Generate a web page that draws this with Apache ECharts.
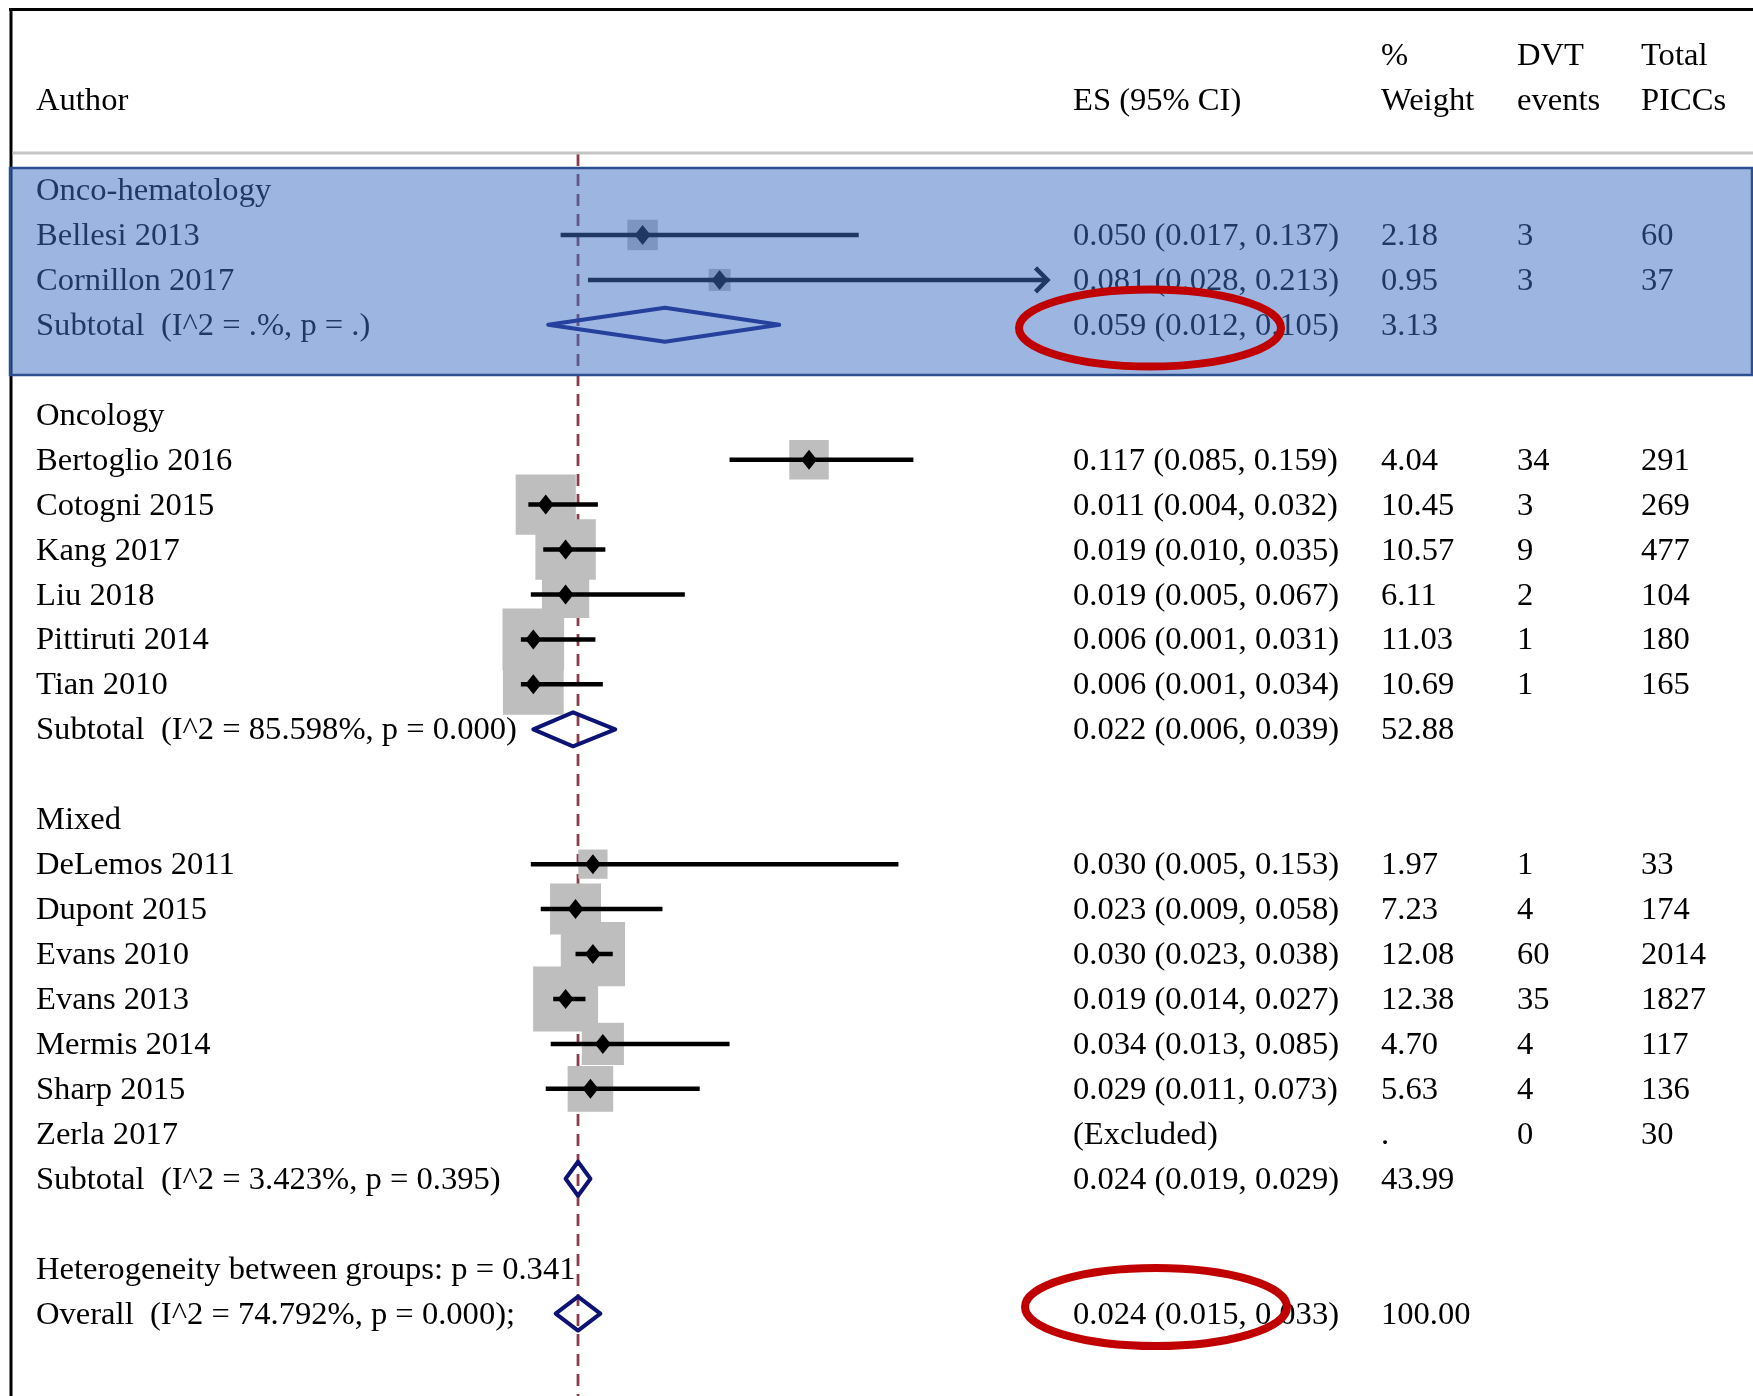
<!DOCTYPE html>
<html>
<head>
<meta charset="utf-8">
<title>PICC-related DVT: forest plot by patient population</title>
<script src="https://cdn.jsdelivr.net/npm/echarts@6/dist/echarts.min.js"></script>
<style>
  html, body { margin: 0; padding: 0; background: #ffffff; }
  #chart { width: 1753px; height: 1396px; }
</style>
</head>
<body>
<div id="chart"></div>
<script>
// ---- Subgroups ----
const groupNames  = ['Onco-hematology', 'Oncology', 'Mixed'];
const groupStats  = ['(I^2 = .%, p = .)', '(I^2 = 85.598%, p = 0.000)', '(I^2 = 3.423%, p = 0.395)'];
const groupES     = [0.059, 0.022, 0.024];
const groupLow    = [0.012, 0.006, 0.019];
const groupHigh   = [0.105, 0.039, 0.029];
const groupWeight = [3.13, 52.88, 43.99];

// ---- Individual studies ----
const studyNames  = ['Bellesi 2013', 'Cornillon 2017',
                     'Bertoglio 2016', 'Cotogni 2015', 'Kang 2017', 'Liu 2018', 'Pittiruti 2014', 'Tian 2010',
                     'DeLemos 2011', 'Dupont 2015', 'Evans 2010', 'Evans 2013', 'Mermis 2014', 'Sharp 2015', 'Zerla 2017'];
const studyGroup  = [0, 0, 1, 1, 1, 1, 1, 1, 2, 2, 2, 2, 2, 2, 2];
const studyES     = [0.050, 0.081, 0.117, 0.011, 0.019, 0.019, 0.006, 0.006, 0.030, 0.023, 0.030, 0.019, 0.034, 0.029, null];
const studyLow    = [0.017, 0.028, 0.085, 0.004, 0.010, 0.005, 0.001, 0.001, 0.005, 0.009, 0.023, 0.014, 0.013, 0.011, null];
const studyHigh   = [0.137, 0.213, 0.159, 0.032, 0.035, 0.067, 0.031, 0.034, 0.153, 0.058, 0.038, 0.027, 0.085, 0.073, null];
const studyWeight = [2.18, 0.95, 4.04, 10.45, 10.57, 6.11, 11.03, 10.69, 1.97, 7.23, 12.08, 12.38, 4.70, 5.63, null];
const studyEvents = [3, 3, 34, 3, 9, 2, 1, 1, 1, 4, 60, 35, 4, 4, 0];
const studyTotal  = [60, 37, 291, 269, 477, 104, 180, 165, 33, 174, 2014, 1827, 117, 136, 30];

// ---- Pooled estimate ----
const overallES = 0.024, overallLow = 0.015, overallHigh = 0.033, overallWeight = 100.00;
const overallLabel = 'Overall  (I^2 = 74.792%, p = 0.000);';
const betweenLabel = 'Heterogeneity between groups: p = 0.341';

// ---- Column headers ----
const headerTop    = ['', '', '%', 'DVT', 'Total'];
const headerBottom = ['Author', 'ES (95% CI)', 'Weight', 'events', 'PICCs'];

// Plotted effect-size range (CIs beyond it end in an arrow)
const axisMin = 0, axisMax = 0.213;

// ---------------------------------------------------------------
const FONT = '32.6px "Liberation Serif", "Times New Roman", serif';
const colX = [36, 1073, 1381, 1517, 1641];
const TEXT_DY = 1.5;
const NAVY = '#0d1275';

const fmt3 = v => v.toFixed(3);
const ciText = (e, l, h) => fmt3(e) + ' (' + fmt3(l) + ', ' + fmt3(h) + ')';

// Lay the table out row by row
const texts = [];      // {col, row, text}
const studyRows = [];  // [es, row, low, high, weight]
const pooledRows = []; // [es, row, low, high]
headerTop.forEach((t, c) => { if (t) texts.push({ col: c, row: -3, text: t }); });
headerBottom.forEach((t, c) => texts.push({ col: c, row: -2, text: t }));

let r = 0;
groupNames.forEach((g, gi) => {
  texts.push({ col: 0, row: r, text: g });
  r++;
  studyNames.forEach((name, si) => {
    if (studyGroup[si] !== gi) return;
    texts.push({ col: 0, row: r, text: name });
    if (studyES[si] === null) {
      texts.push({ col: 1, row: r, text: '(Excluded)' });
      texts.push({ col: 2, row: r, text: '.' });
    } else {
      texts.push({ col: 1, row: r, text: ciText(studyES[si], studyLow[si], studyHigh[si]) });
      texts.push({ col: 2, row: r, text: studyWeight[si].toFixed(2) });
      studyRows.push([studyES[si], r, studyLow[si], studyHigh[si], studyWeight[si]]);
    }
    texts.push({ col: 3, row: r, text: String(studyEvents[si]) });
    texts.push({ col: 4, row: r, text: String(studyTotal[si]) });
    r++;
  });
  texts.push({ col: 0, row: r, text: 'Subtotal  ' + groupStats[gi] });
  texts.push({ col: 1, row: r, text: ciText(groupES[gi], groupLow[gi], groupHigh[gi]) });
  texts.push({ col: 2, row: r, text: groupWeight[gi].toFixed(2) });
  pooledRows.push([groupES[gi], r, groupLow[gi], groupHigh[gi]]);
  r += 2;
});
texts.push({ col: 0, row: r, text: betweenLabel });
r++;
texts.push({ col: 0, row: r, text: overallLabel });
texts.push({ col: 1, row: r, text: ciText(overallES, overallLow, overallHigh) });
texts.push({ col: 2, row: r, text: overallWeight.toFixed(2) });
pooledRows.push([overallES, r, overallLow, overallHigh]);

const chart = echarts.init(document.getElementById('chart'), null, { renderer: 'canvas' });

const option = {
  animation: false,
  backgroundColor: '#ffffff',
  grid: { left: 518.4, width: 529.1, top: 10.24, height: 1384.2 },
  xAxis: { type: 'value', min: axisMin, max: axisMax, show: false },
  yAxis: { type: 'value', min: -4, max: 26.8, inverse: true, show: false },
  series: [
    // reference line at the pooled estimate
    {
      type: 'custom', z: 1, silent: true,
      data: [[overallES]],
      renderItem: (params, api) => {
        const x = api.coord([api.value(0), 0])[0];
        return {
          type: 'line',
          shape: { x1: x, y1: 154, x2: x, y2: 1396 },
          style: { stroke: '#8c3c4b', lineWidth: 2.8, lineDash: [12, 8] }
        };
      }
    },
    // study weight boxes, CI lines and point estimates
    {
      type: 'custom', z: 3, silent: true,
      data: studyRows,
      renderItem: (params, api) => {
        const es = api.value(0), row = api.value(1), lo = api.value(2), hi = api.value(3), w = api.value(4);
        const c = api.coord([es, row]);
        const xl = api.coord([Math.max(lo, axisMin), row])[0];
        const clipped = hi >= axisMax;
        const xr = api.coord([Math.min(hi, axisMax), row])[0];
        const side = 16.9 * Math.sqrt(w) + 5.5;
        const children = [
          { type: 'rect', shape: { x: c[0] - side / 2, y: c[1] - side / 2, width: side, height: side },
            style: { fill: '#bebebe' } },
          { type: 'line', shape: { x1: xl, y1: c[1], x2: xr, y2: c[1] },
            style: { stroke: '#000', lineWidth: 4.5 } },
          { type: 'polygon', shape: { points: [[c[0] - 8, c[1]], [c[0], c[1] - 10], [c[0] + 8, c[1]], [c[0], c[1] + 10]] },
            style: { fill: '#000' } }
        ];
        if (clipped) {
          children.push({ type: 'polyline',
            shape: { points: [[xr - 12, c[1] - 12], [xr, c[1]], [xr - 12, c[1] + 12]] },
            style: { stroke: '#000', lineWidth: 4.5, fill: null } });
        }
        return { type: 'group', children };
      }
    },
    // pooled diamonds
    {
      type: 'custom', z: 4, silent: true,
      data: pooledRows,
      renderItem: (params, api) => {
        const row = api.value(1);
        const c = api.coord([api.value(0), row]);
        const xl = api.coord([api.value(2), row])[0];
        const xr = api.coord([api.value(3), row])[0];
        const hh = 17;
        return {
          type: 'polygon',
          shape: { points: [[xl, c[1]], [c[0], c[1] - hh], [xr, c[1]], [c[0], c[1] + hh]] },
          style: { fill: null, stroke: NAVY, lineWidth: 4, lineJoin: 'round' }
        };
      }
    },
    // table text
    {
      type: 'custom', z: 5, silent: true,
      data: texts.map(t => [0, t.row]),
      renderItem: (params, api) => {
        const t = texts[params.dataIndex];
        const y = api.coord([0, api.value(1)])[1] + TEXT_DY;
        return {
          type: 'text',
          style: { text: t.text, x: colX[t.col], y: y, font: FONT, fill: '#000',
                   align: 'left', verticalAlign: 'middle' }
        };
      }
    }
  ],
  graphic: [
    { type: 'line', z: 40, silent: true, shape: { x1: 9, y1: 9.5, x2: 1753, y2: 9.5 },
      style: { stroke: '#000', lineWidth: 3 } },
    { type: 'line', z: 40, silent: true, shape: { x1: 11, y1: 8, x2: 11, y2: 1396 },
      style: { stroke: '#000', lineWidth: 3 } },
    { type: 'line', z: 40, silent: true, shape: { x1: 12.5, y1: 153, x2: 1753, y2: 153 },
      style: { stroke: '#c4c4c4', lineWidth: 3 } },
    // highlight band over the onco-hematology subgroup
    { type: 'rect', z: 50, silent: true, shape: { x: 10, y: 168, width: 1742, height: 207 },
      style: { fill: 'rgba(61,110,196,0.51)', stroke: '#2c4f8f', lineWidth: 2.5 } },
    // red call-outs around the pooled estimates
    { type: 'ellipse', z: 60, silent: true, shape: { cx: 1150, cy: 328, rx: 131, ry: 38.5 },
      style: { fill: null, stroke: '#c00000', lineWidth: 8 } },
    { type: 'ellipse', z: 60, silent: true, shape: { cx: 1156, cy: 1307, rx: 131, ry: 39 },
      style: { fill: null, stroke: '#c00000', lineWidth: 8 } }
  ]
};

chart.setOption(option);
</script>
</body>
</html>
